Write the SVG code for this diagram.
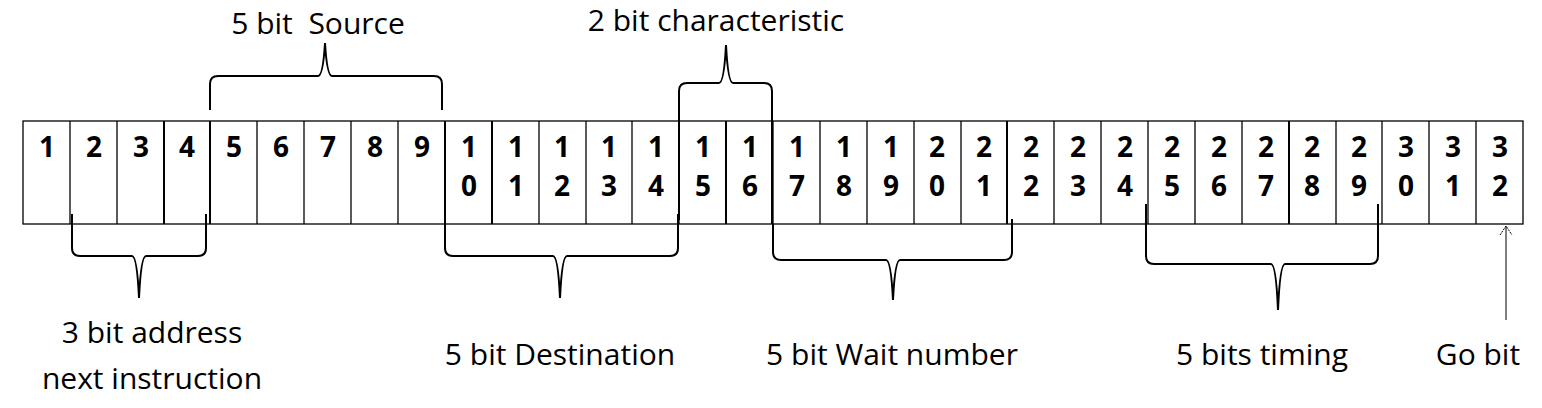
<svg xmlns="http://www.w3.org/2000/svg" width="1542" height="408" viewBox="0 0 1542 408">
<style>
.c{fill:#fff;stroke:#000;stroke-width:1.3}
.n{font-family:"Open Sans","Liberation Sans",sans-serif;font-weight:bold;font-size:28px;text-anchor:middle}
.l{font-family:"Open Sans","Liberation Sans",sans-serif;font-size:30px;text-anchor:middle;white-space:pre}
.b{fill:none;stroke:#000;stroke-width:2}
</style>
<rect width="1542" height="408" fill="#fff"/>
<g id="register">
<rect class="c" x="23" y="121" width="1500" height="103"/>
<g stroke="#000" stroke-width="1.3">
<line x1="70" y1="121" x2="70" y2="224"/><line x1="117" y1="121" x2="117" y2="224"/><line x1="164" y1="121" x2="164" y2="224" stroke-width="2"/><line x1="210" y1="121" x2="210" y2="224" stroke-width="2"/>
<line x1="257" y1="121" x2="257" y2="224"/><line x1="304" y1="121" x2="304" y2="224"/><line x1="351" y1="121" x2="351" y2="224"/><line x1="398" y1="121" x2="398" y2="224"/><line x1="445" y1="121" x2="445" y2="224" stroke-width="2"/>
<line x1="492" y1="121" x2="492" y2="224" stroke-width="2"/><line x1="539" y1="121" x2="539" y2="224"/><line x1="586" y1="121" x2="586" y2="224"/><line x1="632" y1="121" x2="632" y2="224"/><line x1="679" y1="121" x2="679" y2="224"/>
<line x1="726" y1="121" x2="726" y2="224" stroke-width="2"/><line x1="773" y1="121" x2="773" y2="224"/><line x1="820" y1="121" x2="820" y2="224"/><line x1="867" y1="121" x2="867" y2="224"/><line x1="914" y1="121" x2="914" y2="224"/>
<line x1="961" y1="121" x2="961" y2="224"/><line x1="1007" y1="121" x2="1007" y2="224" stroke-width="2"/><line x1="1054" y1="121" x2="1054" y2="224"/><line x1="1101" y1="121" x2="1101" y2="224"/><line x1="1148" y1="121" x2="1148" y2="224"/>
<line x1="1195" y1="121" x2="1195" y2="224"/><line x1="1242" y1="121" x2="1242" y2="224"/><line x1="1289" y1="121" x2="1289" y2="224" stroke-width="2"/><line x1="1336" y1="121" x2="1336" y2="224"/><line x1="1382" y1="121" x2="1382" y2="224"/>
<line x1="1429" y1="121" x2="1429" y2="224"/><line x1="1476" y1="121" x2="1476" y2="224"/>
</g>
<g class="n">
<text x="47" y="157">1</text><text x="94" y="157">2</text><text x="141" y="157">3</text><text x="187" y="157">4</text><text x="234" y="157">5</text><text x="281" y="157">6</text><text x="328" y="157">7</text><text x="375" y="157">8</text><text x="422" y="157">9</text>
</g>
<g class="n">
<text x="469" y="157">1</text><text x="469" y="196">0</text>
<text x="516" y="157">1</text><text x="516" y="196">1</text>
<text x="562" y="157">1</text><text x="562" y="196">2</text>
<text x="609" y="157">1</text><text x="609" y="196">3</text>
<text x="656" y="157">1</text><text x="656" y="196">4</text>
<text x="703" y="157">1</text><text x="703" y="196">5</text>
<text x="750" y="157">1</text><text x="750" y="196">6</text>
<text x="797" y="157">1</text><text x="797" y="196">7</text>
<text x="844" y="157">1</text><text x="844" y="196">8</text>
<text x="891" y="157">1</text><text x="891" y="196">9</text>
<text x="937" y="157">2</text><text x="937" y="196">0</text>
<text x="984" y="157">2</text><text x="984" y="196">1</text>
<text x="1031" y="157">2</text><text x="1031" y="196">2</text>
<text x="1078" y="157">2</text><text x="1078" y="196">3</text>
<text x="1125" y="157">2</text><text x="1125" y="196">4</text>
<text x="1172" y="157">2</text><text x="1172" y="196">5</text>
<text x="1219" y="157">2</text><text x="1219" y="196">6</text>
<text x="1266" y="157">2</text><text x="1266" y="196">7</text>
<text x="1312" y="157">2</text><text x="1312" y="196">8</text>
<text x="1359" y="157">2</text><text x="1359" y="196">9</text>
<text x="1406" y="157">3</text><text x="1406" y="196">0</text>
<text x="1453" y="157">3</text><text x="1453" y="196">1</text>
<text x="1500" y="157">3</text><text x="1500" y="196">2</text>
</g>
</g>
<g id="connectors">
<path class="b" d="M210,110 L210,84 Q210,76 218,76 L318,76 Q323,76 325,43 Q327,76 332,76 L434,76 Q442,76 442,84 L442,110"/>
<path class="b" d="M679,220 L679,91 Q679,83 687,83 L719,83 Q724,83 726,45 Q728,83 733,83 L764,83 Q772,83 772,91 L772,224"/>
<path class="b" d="M72,214 L72,248 Q72,256 80,256 L132,256 Q137,256 139,298 Q141,256 146,256 L198,256 Q206,256 206,248 L206,214"/>
<path class="b" d="M445,214 L445,248 Q445,256 453,256 L553,256 Q558,256 560,298 Q562,256 567,256 L670,256 Q678,256 678,248 L678,214"/>
<path class="b" d="M773,224 L773,252 Q773,260 781,260 L886,260 Q891,260 893,300 Q895,260 900,260 L1004,260 Q1012,260 1012,252 L1012,219"/>
<path class="b" d="M1146,204 L1146,256 Q1146,264 1154,264 L1271,264 Q1276,264 1278,310 Q1280,264 1285,264 L1370,264 Q1378,264 1378,256 L1378,204"/>
<line x1="1506" y1="320" x2="1506" y2="226" stroke="#000" stroke-width="1"/>
<path d="M1500,235 L1506,226 L1512,235" fill="none" stroke="#000" stroke-width="1" stroke-dasharray="2 1"/>
</g>
<g id="labels" class="l">
<text x="318" y="34" xml:space="preserve">5 bit  Source</text>
<text x="716" y="31">2 bit characteristic</text>
<text x="152" y="343">3 bit address</text>
<text x="152" y="389">next instruction</text>
<text x="560" y="365">5 bit Destination</text>
<text x="892" y="365">5 bit Wait number</text>
<text x="1262" y="365">5 bits timing</text>
<text x="1478" y="365">Go bit</text>
</g>
</svg>
